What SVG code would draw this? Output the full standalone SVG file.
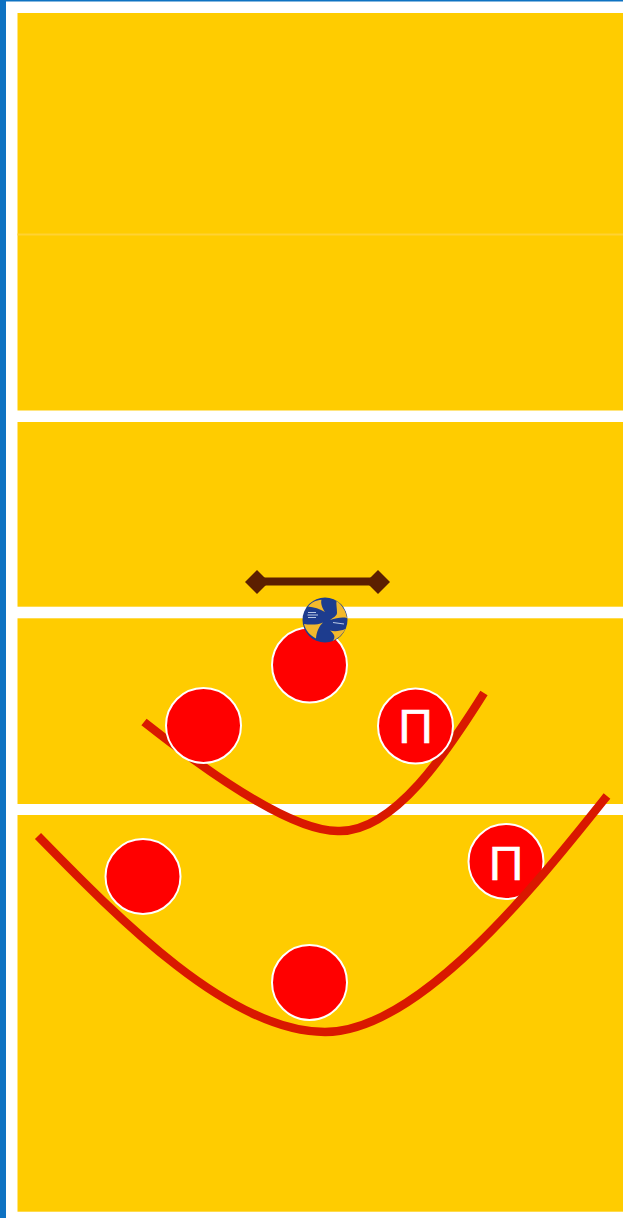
<svg xmlns="http://www.w3.org/2000/svg" width="623" height="1218" viewBox="0 0 623 1218">
<style>
.court{fill:#ffcc00}
.player{fill:#ff0000;stroke:#ffffff;stroke-width:2}
.lbl{font-family:"Liberation Sans",Arial,sans-serif;font-size:48px;fill:#ffffff;stroke:#ffffff;stroke-width:0.5;text-anchor:middle}
.curve{fill:none;stroke:#d91800;stroke-width:8.500}
.gold{fill:#f2b92c}
.mark{fill:none;stroke:#b9c8e4;stroke-width:1.2}
</style>
<rect width="623" height="1218" fill="#ffffff"/>
<rect x="0" y="0" width="6" height="1218" fill="#0e72c2"/>
<rect x="0" y="0" width="623" height="1.500" fill="#0e72c2"/>
<g id="court">
<rect class="court" x="17.500" y="13" width="605.500" height="397.500"/>
<rect x="17.500" y="233.500" width="605.500" height="2" fill="#ffd233"/>
<rect class="court" x="17.500" y="422" width="605.500" height="184.700"/>
<rect class="court" x="17.500" y="618.300" width="605.500" height="185.700"/>
<rect class="court" x="17.500" y="815" width="605.500" height="396.700"/>
</g>
<g id="net">
<path d="M258 581.500H378" stroke="#5c1f00" stroke-width="8" fill="none"/>
<path d="M257 570L269 582L257 594L245 582Z" fill="#5c1f00"/>
<path d="M378 570L390 582L378 594L366 582Z" fill="#5c1f00"/>
</g>
<g id="connectors">
<path id="curve-upper" class="curve" d="M144 722C215 778 295 833 340 831C395 831 447 752 484 693"/>
</g>
<g id="player-1"><circle class="player" cx="309.500" cy="665" r="37.500"/></g>
<g id="player-2"><circle class="player" cx="203.500" cy="725.500" r="37.500"/></g>
<g id="player-3"><circle class="player" cx="415.500" cy="726" r="37.500"/><text class="lbl" x="415.500" y="743">П</text></g>
<g id="player-4"><circle class="player" cx="143" cy="876.500" r="37.500"/></g>
<g id="player-5"><circle class="player" cx="506" cy="861.500" r="37.500"/><text class="lbl" x="506" y="879.500">П</text></g>
<g id="player-6"><circle class="player" cx="309.500" cy="982.500" r="37.500"/></g>
<g id="connectors-lower">
<path id="curve-lower" class="curve" d="M38 836C120 920 230 1032 325 1032C420 1032 540 880 607 796"/>
</g>
<g id="ball">
<circle cx="325" cy="620" r="22.500" fill="#1d3c8e"/>
<path class="gold" d="M308 606.500C311 603 316 600 321.500 599.800C320.500 603 322 608 325 612C320 609 314 607 308 606.500Z"/>
<path class="gold" d="M336.500 601C342 605 346 611 347 618C342 617 336 618 330 620C334 617 337 616 337 612.500C337 608 336 604 336.500 601Z"/>
<path class="gold" d="M304 624C310 625 318 625 323 622.500C319 626 316.500 632 316 638.500C310 635.500 305.500 630 304 624Z"/>
<path class="gold" d="M330 630.500C335 632 340 631 345.500 629C342.500 634.500 338 638.500 332.500 641C336 637.500 334.500 634 330 630.500Z"/>
<path class="mark" d="M308 612.500H316M307.500 615H318M308 617.500H316"/>
<path class="mark" d="M333 622.500L344 624"/>
</g>
</svg>
